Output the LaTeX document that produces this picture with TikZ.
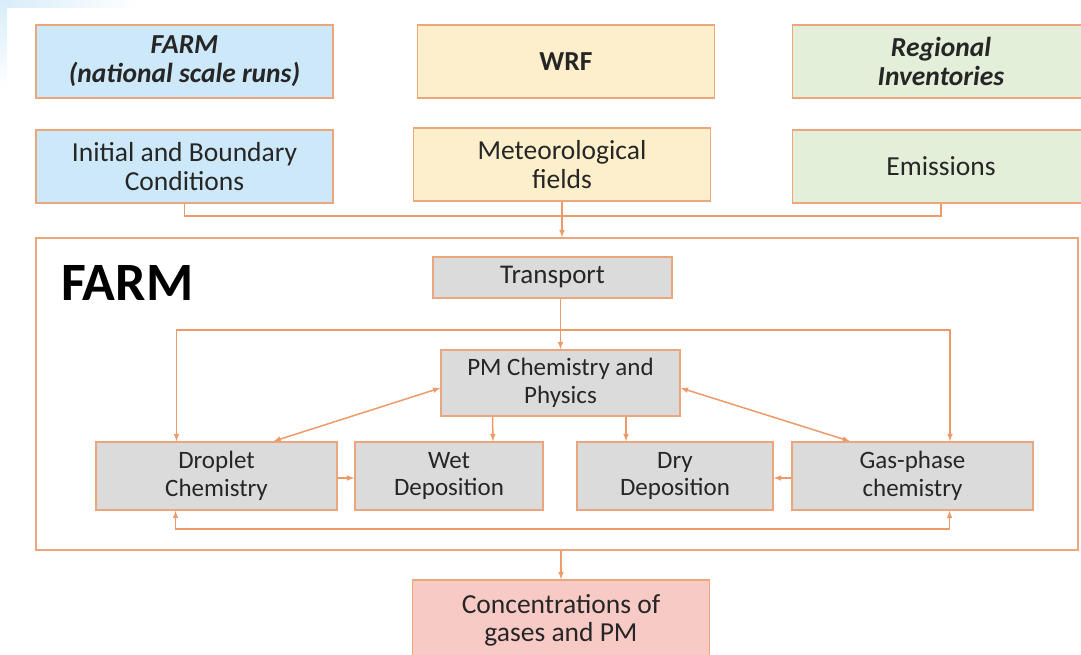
\documentclass[tikz,border=0pt]{standalone}
\usepackage{fontspec}
\setmainfont{Carlito}
\usetikzlibrary{arrows}

\definecolor{linkor}{HTML}{EC9A68}
\definecolor{boxor}{HTML}{EBA67C}
\definecolor{inblue}{HTML}{CDE8F8}
\definecolor{inyel}{HTML}{FDEFCB}
\definecolor{ingreen}{HTML}{E3EFD9}
\definecolor{procgray}{HTML}{DBDBDB}
\definecolor{outpink}{HTML}{F8CAC6}
\definecolor{txt}{HTML}{262626}

\begin{document}
\begin{tikzpicture}[x=1pt,y=-1pt,
    box/.style={draw=boxor,line width=1.5pt,text=txt,align=center,inner sep=0pt},
    topbox/.style={box,minimum width=297pt,minimum height=73pt,font=\fontsize{27.5}{29}\selectfont},
    procbox/.style={box,fill=procgray,minimum height=68pt,font=\fontsize{25}{27.5}\selectfont},
    link/.style={draw=linkor,line width=1.5pt},
    arr/.style={link,-latex},
    darr/.style={link,latex-latex}]
    \useasboundingbox (0,0) rectangle (1081,654);
    \fill[left color=inblue!80,right color=white] (0,0) rectangle (140,7);% faint corner
    \fill[top color=inblue!80,bottom color=white] (0,0) rectangle (7,90);
    % inputs
    \node[topbox,fill=inblue] (farmnat) at (184.5,61.5) {\textbf{\textit{FARM}}\\\textbf{\textit{(national scale runs)}}};
    \node[topbox,fill=inyel] (wrf) at (566,61.5) {\textbf{WRF}};
    \node[topbox,fill=ingreen] (reginv) at (941,61.5) {\textbf{\textit{Regional}}\\\textbf{\textit{Inventories}}};
    \node[topbox,fill=inblue] (ibc) at (184.5,166.5) {Initial and Boundary\\Conditions};
    \node[topbox,fill=inyel] (metf) at (562,164.5) {Meteorological\\fields};
    \node[topbox,fill=ingreen] (emis) at (941,166.5) {Emissions};
    % the model
    \node[draw=boxor,line width=1.5pt,minimum width=1042pt,minimum height=312pt] (farmbox) at (557,394) {};
    \node[anchor=base west,inner sep=0pt,font=\fontsize{54}{54}\selectfont\bfseries] (farmlbl) at (61,300) {FARM};
    \node[box,fill=procgray,minimum width=239pt,minimum height=41pt,font=\fontsize{27}{29}\selectfont] (transport) at (552.5,277.5) {Transport};
    \node[procbox,minimum width=239pt,minimum height=66pt] (pmchem) at (560.5,383) {PM Chemistry and\\Physics};
    \node[procbox,minimum width=241pt] (droplet) at (216.5,476) {Droplet\\Chemistry};
    \node[procbox,minimum width=188pt] (wet) at (449,476) {Wet\\Deposition};
    \node[procbox,minimum width=196pt] (dry) at (675,476) {Dry\\Deposition};
    \node[procbox,minimum width=241pt] (gas) at (912.5,476) {Gas-phase\\chemistry};
    % output
    \node[box,fill=outpink,minimum width=297pt,minimum height=80pt,font=\fontsize{27.5}{28}\selectfont] (conc) at (561,620) {Concentrations of\\gases and PM};
    % inputs into FARM
    \draw[link] (ibc.south) |- (561,216) -| (emis.south);
    \draw[arr] (metf.south) -- (metf.south |- farmbox.north);
    % inside FARM
    \draw[arr] (transport.south -| pmchem) -- (pmchem.north);
    \coordinate (looptop) at (561,330);
    \draw[arr] (looptop) -| ([xshift=-40pt]droplet.north);
    \draw[arr] (looptop) -| ([xshift=37.5pt]gas.north);
    \draw[darr] ([yshift=-5pt]pmchem.west) -- ([xshift=57pt]droplet.north);
    \draw[darr] ([yshift=-5pt]pmchem.east) -- ([xshift=-62.5pt]gas.north);
    \draw[arr] ([xshift=-68pt]pmchem.south) -- ([xshift=44pt]wet.north);
    \draw[arr] ([xshift=65.5pt]pmchem.south) -- ([xshift=-49pt]dry.north);
    \draw[arr] ([yshift=-2pt]droplet.east) -- ([yshift=-2pt]wet.west);
    \draw[arr] ([yshift=-2pt]gas.west) -- ([yshift=-2pt]dry.east);
    \draw[darr] ([xshift=-41pt]droplet.south) -- ++(0,18) -| ([xshift=37pt]gas.south);
    % out of FARM
    \draw[arr] (farmbox.south -| conc.north) -- (conc.north);
\end{tikzpicture}
\end{document}
